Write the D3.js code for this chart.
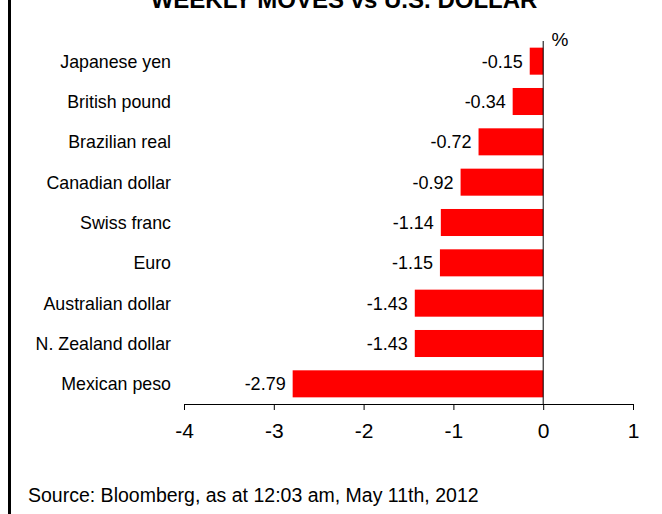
<!DOCTYPE html>
<html><head><meta charset="utf-8">
<script src="https://cdn.jsdelivr.net/npm/d3@7"></script>
<style>body{margin:0;background:#fff}svg{display:block;font-family:"Liberation Sans",Arial,sans-serif}</style>
</head><body><svg id="c" width="662" height="514"></svg>
<script>
const categories = ["Japanese yen","British pound","Brazilian real","Canadian dollar","Swiss franc","Euro","Australian dollar","N. Zealand dollar","Mexican peso"];
const values = [-0.15,-0.34,-0.72,-0.92,-1.14,-1.15,-1.43,-1.43,-2.79];
const labels = ["-0.15","-0.34","-0.72","-0.92","-1.14","-1.15","-1.43","-1.43","-2.79"];
const tickValues = [-4,-3,-2,-1,0,1];
const tickLabels = ["-4","-3","-2","-1","0","1"];

const svg = d3.select("#c");
const x = d3.scaleLinear().domain([-4,1]).range([184,633]);
const y = d3.scaleBand().domain(categories).range([41,404]).paddingInner(0.33).paddingOuter(0.165);

svg.append("rect").attr("x",8).attr("y",0).attr("width",3).attr("height",514).attr("fill","#000");

svg.append("text").attr("x",344).attr("y",8).attr("text-anchor","middle")
  .attr("font-size",24).attr("font-weight","bold").text("WEEKLY MOVES vs U.S. DOLLAR");

svg.selectAll("rect.bar").data(values).join("rect").attr("class","bar")
  .attr("x",d=>x(d)).attr("width",d=>x(0)-x(d))
  .attr("y",(d,i)=>y(categories[i])).attr("height",y.bandwidth()).attr("fill","#ff0000");

svg.selectAll("text.val").data(values).join("text").attr("class","val")
  .attr("x",d=>x(d)-7).attr("y",(d,i)=>y(categories[i])+y.bandwidth()/2)
  .attr("dy","0.36em").attr("text-anchor","end").attr("font-size",18).text((d,i)=>labels[i]);

svg.selectAll("text.cat").data(categories).join("text").attr("class","cat")
  .attr("x",171).attr("y",d=>y(d)+y.bandwidth()/2).attr("dy","0.36em")
  .attr("text-anchor","end").attr("font-size",17.8).text(d=>d);

svg.append("line").attr("x1",x(0)).attr("x2",x(0)).attr("y1",41).attr("y2",404).attr("stroke","#000").attr("stroke-width",1);

const ax = svg.append("g").attr("transform","translate(0,404)")
  .call(d3.axisBottom(x).tickValues(tickValues).tickSize(6).tickSizeOuter(0).tickPadding(13).tickFormat((d,i)=>tickLabels[i]));
ax.select(".domain").attr("stroke","#000");
ax.selectAll(".tick line").attr("stroke","#000");
ax.selectAll("text").attr("font-size",21).attr("font-family","Liberation Sans, Arial, sans-serif").attr("fill","#000");

svg.append("text").attr("x",560).attr("y",46).attr("text-anchor","middle").attr("font-size",19).text("%");

svg.append("text").attr("x",28).attr("y",502).attr("font-size",19.5).text("Source: Bloomberg, as at 12:03 am, May 11th, 2012");
</script></body></html>
